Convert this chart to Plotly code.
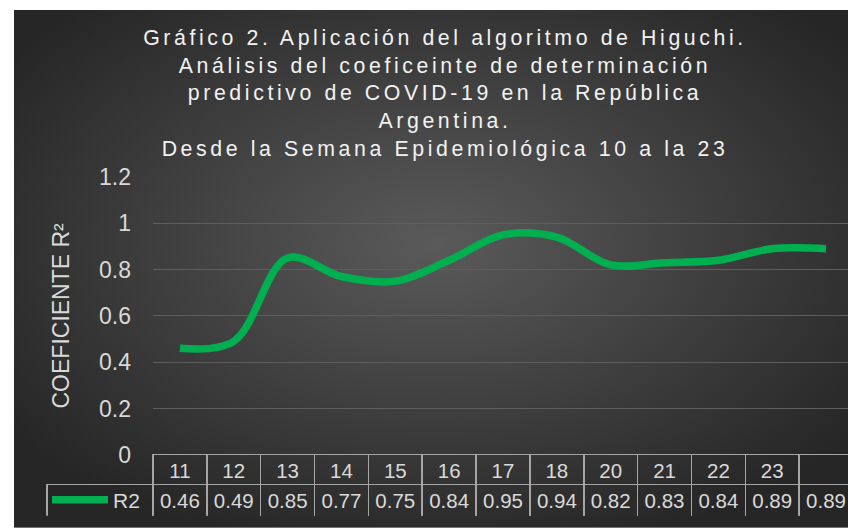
import base64
import plotly.graph_objects as go

# semanas epidemiológicas (la última columna no tiene etiqueta)
semanas = ["11", "12", "13", "14", "15", "16", "17", "18", "20", "21", "22", "23", " "]
r2 = [0.46, 0.49, 0.85, 0.77, 0.75, 0.84, 0.95, 0.94, 0.82, 0.83, 0.84, 0.89, 0.89]
serie = "R2"
yticks = [0, 0.2, 0.4, 0.6, 0.8, 1, 1.2]

titulo = ("Gráfico 2. Aplicación del algoritmo de Higuchi.<br>"
          "Análisis del coeficeinte de determinación<br>"
          "predictivo de COVID-19 en la República<br>"
          "Argentina.<br>"
          "Desde la Semana Epidemiológica 10 a la 23")

# la página deja 8px de margen, la figura ocupa el resto de la ventana
OFF = 8
W, H = 856 - OFF, 532 - OFF
L, R, T, B = 47 - OFF, 3, 177 - OFF, 12
pw, ph = W - L - R, H - T - B

def px_x(p):
    return (p - OFF - L) / pw

def px_y(p):
    return (H - B - (p - OFF)) / ph

fuente = "Liberation Sans, Arial"
txt = "#D9D9D9"
borde = "#A6A6A6"
verde = "#00B050"

svg = ('<svg xmlns="http://www.w3.org/2000/svg" width="842" height="524" preserveAspectRatio="none">'
       '<defs><radialGradient id="g" cx="50%" cy="45%" r="62%">'
       '<stop offset="0" stop-color="#5A5A5A"/><stop offset="1" stop-color="#262626"/>'
       '</radialGradient></defs><rect width="842" height="524" fill="url(#g)"/></svg>')
fondo = "data:image/svg+xml;base64," + base64.b64encode(svg.encode()).decode()

fig = go.Figure()

fig.add_trace(go.Scatter(x=semanas, y=r2, name=serie,
                         mode="lines",
                         line=dict(color=verde, width=7.5, shape="spline", smoothing=1),
                         showlegend=True))

ncol = len(semanas)
fig.add_trace(go.Table(
    domain=dict(x=[0, 1], y=[0, px_y(458)]),
    columnwidth=[106] + [700 / ncol] * ncol,
    header=dict(values=[""] + semanas,
                height=30,
                align="center",
                fill=dict(color="rgba(0,0,0,0)"),
                line=dict(color=["rgba(0,0,0,0)"] + [borde] * ncol, width=1.5),
                font=dict(family=fuente, size=20.5, color=txt)),
    cells=dict(values=[[""]] + [[f"{v:.2f}"] for v in r2],
               height=32,
               align="center",
               fill=dict(color="rgba(0,0,0,0)"),
               line=dict(color=borde, width=1.5),
               font=dict(family=fuente, size=20.5, color=txt)),
))

fig.update_xaxes(domain=[px_x(153), 1],
                 range=[-0.5, ncol - 0.5],
                 showticklabels=False, showgrid=False, zeroline=False,
                 showline=False, ticks="")

fig.update_yaxes(domain=[px_y(458), 1],
                 range=[0, 1.2],
                 tickvals=yticks,
                 showgrid=True, gridcolor="#5E5E5E", gridwidth=1,
                 zeroline=False, showline=False,
                 ticklabelstandoff=21,
                 tickfont=dict(family=fuente, size=23, color=txt),
                 title=dict(text="COEFICIENTE R²", standoff=22,
                            font=dict(family=fuente, size=23, color=txt)))

fig.update_layout(
    width=W, height=H,
    margin=dict(l=L, r=R, t=T, b=B),
    paper_bgcolor="white",
    plot_bgcolor="rgba(0,0,0,0)",
    title=dict(text='<span style="letter-spacing:3.6px">' + titulo + "</span>",
               x=(445 - OFF) / W, xanchor="center",
               y=1 - 37 / H, yanchor="top", yref="container",
               font=dict(family=fuente, size=21.3, color="#F2F2F2")),
    legend=dict(x=0, y=px_y(504), xanchor="left", yanchor="middle",
                itemwidth=56, bgcolor="rgba(0,0,0,0)",
                font=dict(family=fuente, size=21, color=txt)),
    images=[dict(source=fondo, xref="paper", yref="paper",
                 x=px_x(14), y=px_y(8), sizex=842 / pw, sizey=524 / ph,
                 sizing="stretch", xanchor="left", yanchor="top", layer="below")],
)

fig.write_html("out.html")
